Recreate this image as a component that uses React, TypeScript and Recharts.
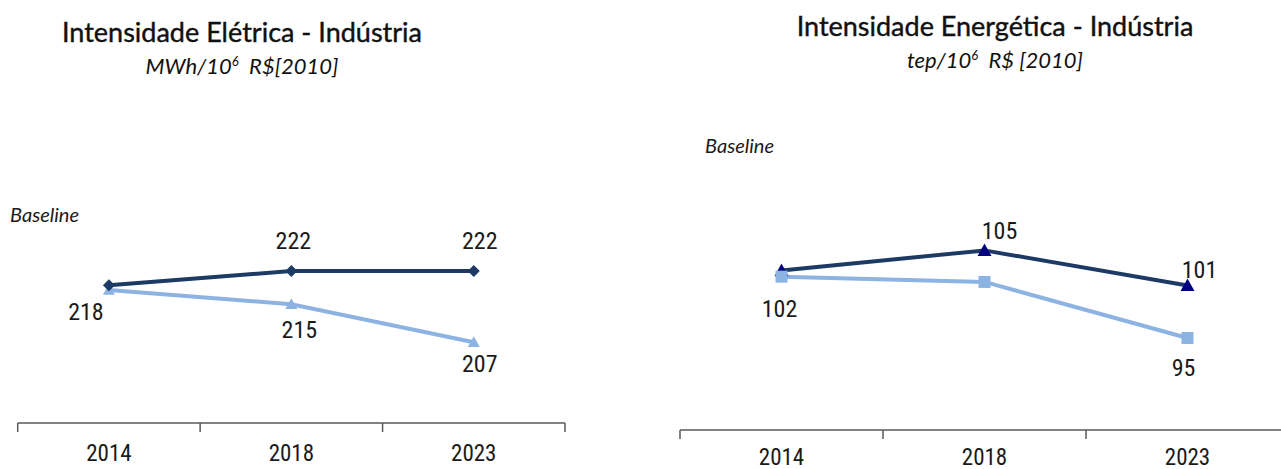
import { LineChart, Line, XAxis, YAxis, LabelList } from 'recharts'

// categories
const YEARS = ['2014', '2018', '2023']

// Intensidade Elétrica (MWh/10^6 R$[2010]) – first dark point has no label, estimated from position
const ELETRICA_REF = [219, 222, 222]
const ELETRICA_EFF = [218, 215, 207]

// Intensidade Energética (tep/10^6 R$[2010]) – unlabeled points estimated from position
const ENERGETICA_REF = [102.7, 105, 101]
const ENERGETICA_EFF = [102, 101.4, 95]

const DARK = '#1c3a64'
const LIGHT = '#8db3e2'
const NAVY = '#000080'
const AXIS = '#595959'
const TEXT = '#1a1a1a'
const NARROW = "'Liberation Sans Narrow', 'Arial Narrow', 'Roboto Condensed', 'Liberation Sans', sans-serif"
const TITLE_FONT = "Lato, 'Open Sans', sans-serif"

type Offset = [number, number] | null

const buildData = (ref: number[], eff: number[]) =>
  YEARS.map((year, i) => ({ year, ref: ref[i], eff: eff[i] }))

function makeTick(band: number, dy: number) {
  return (props: any) => {
    const { x, y, payload, index, visibleTicksCount } = props
    const last = index === (visibleTicksCount ?? YEARS.length) - 1
    return (
      <g>
        <line x1={x - band / 2} x2={x - band / 2} y1={y} y2={y + 9} stroke={AXIS} strokeWidth={1.5} />
        {last && <line x1={x + band / 2} x2={x + band / 2} y1={y} y2={y + 9} stroke={AXIS} strokeWidth={1.5} />}
        <text
          x={x}
          y={y + dy}
          textAnchor="middle"
          dominantBaseline="central"
          fontFamily={NARROW}
          fontSize={23}
          fill={TEXT}
        >
          {payload.value}
        </text>
      </g>
    )
  }
}

const diamond = (color: string, r: number) => (p: any) => {
  if (p.cx == null || p.cy == null) return <g key={p.index} />
  const { cx, cy } = p
  return <path key={p.index} d={`M${cx},${cy - r}L${cx + r},${cy}L${cx},${cy + r}L${cx - r},${cy}Z`} fill={color} />
}

const triangle = (color: string, r: number) => (p: any) => {
  if (p.cx == null || p.cy == null) return <g key={p.index} />
  const { cx, cy } = p
  return <path key={p.index} d={`M${cx},${cy - r}L${cx + r},${cy + r * 0.8}L${cx - r},${cy + r * 0.8}Z`} fill={color} />
}

const square = (color: string, r: number) => (p: any) => {
  if (p.cx == null || p.cy == null) return <g key={p.index} />
  return <rect key={p.index} x={p.cx - r} y={p.cy - r} width={r * 2} height={r * 2} fill={color} />
}

const valueLabel = (offsets: Offset[]) => (p: any) => {
  const o = offsets[p.index]
  if (!o || p.x == null || p.y == null) return null
  return (
    <text
      key={p.index}
      x={p.x + o[0]}
      y={p.y + o[1]}
      textAnchor="middle"
      dominantBaseline="central"
      fontFamily={NARROW}
      fontSize={24}
      fill={TEXT}
    >
      {Math.round(Number(p.value))}
    </text>
  )
}

function Title({ left, top, width, title, unit, tail }: { left: number; top: number; width: number; title: string; unit: string; tail: string }) {
  return (
    <div style={{ position: 'absolute', left, top, width, textAlign: 'center', fontFamily: TITLE_FONT, color: '#111' }}>
      <div style={{ fontSize: 27, lineHeight: '30px', WebkitTextStroke: '0.4px #111' }}>{title}</div>
      <div style={{ fontSize: 22, fontStyle: 'italic', lineHeight: '28px' }}>
        {unit}
        <sup style={{ fontSize: 13 }}>6</sup>
        {'\u00a0\u00a0'}
        {tail}
      </div>
    </div>
  )
}

function Baseline({ left, top }: { left: number; top: number }) {
  return (
    <div style={{ position: 'absolute', left, top, fontFamily: TITLE_FONT, fontStyle: 'italic', fontSize: 20, color: TEXT }}>
      Baseline
    </div>
  )
}

export default function App() {
  const eletrica = buildData(ELETRICA_REF, ELETRICA_EFF)
  const energetica = buildData(ENERGETICA_REF, ENERGETICA_EFF)
  const leftBand = (565 - 17.7) / 3
  const rightBand = 609 / 3

  return (
    <div style={{ position: 'absolute', left: 0, top: 0, width: 1281, height: 469, overflow: 'hidden', background: '#fff' }}>
      <Title left={42} top={17} width={400} title="Intensidade Elétrica - Indústria" unit="MWh/10" tail="R$[2010]" />
      <Title left={795} top={11} width={400} title="Intensidade Energética - Indústria" unit="tep/10" tail="R$ [2010]" />
      <Baseline left={10} top={202} />
      <Baseline left={705} top={133} />

      <div style={{ position: 'absolute', left: 0, top: 0 }}>
        <LineChart width={600} height={469} data={eletrica} margin={{ top: 185.5, right: 35, bottom: 6, left: 17.7 }}>
          <XAxis
            dataKey="year"
            scale="band"
            height={40}
            tickSize={0}
            tickMargin={0}
            tickLine={false}
            axisLine={{ stroke: AXIS, strokeWidth: 1.5 }}
            tick={makeTick(leftBand, 30)}
            interval={0}
          />
          <YAxis hide type="number" domain={[190, 240]} allowDataOverflow />
          <Line
            dataKey="eff"
            stroke={LIGHT}
            strokeWidth={4}
            dot={triangle(LIGHT, 6)}
            activeDot={false}
            isAnimationActive={false}
          >
            <LabelList dataKey="eff" content={valueLabel([[-23, 22], [8, 26], [6, 22]])} />
          </Line>
          <Line
            dataKey="ref"
            stroke={DARK}
            strokeWidth={4}
            dot={diamond(DARK, 6)}
            activeDot={false}
            isAnimationActive={false}
          >
            <LabelList dataKey="ref" content={valueLabel([null, [2, -30], [6, -30]])} />
          </Line>
        </LineChart>
      </div>

      <div style={{ position: 'absolute', left: 640, top: 0 }}>
        <LineChart width={660} height={469} data={energetica} margin={{ top: 206.6, right: 11, bottom: 6, left: 40 }}>
          <XAxis
            dataKey="year"
            scale="band"
            height={33}
            tickSize={0}
            tickMargin={0}
            tickLine={false}
            axisLine={{ stroke: AXIS, strokeWidth: 1.5 }}
            tick={makeTick(rightBand, 27)}
            interval={0}
          />
          <YAxis hide type="number" domain={[84.5, 110]} allowDataOverflow />
          <Line
            dataKey="ref"
            stroke={DARK}
            strokeWidth={4}
            dot={triangle(NAVY, 7)}
            activeDot={false}
            isAnimationActive={false}
          >
            <LabelList dataKey="ref" content={valueLabel([null, [15, -19], [12, -15]])} />
          </Line>
          <Line
            dataKey="eff"
            stroke={LIGHT}
            strokeWidth={4}
            dot={square(LIGHT, 6)}
            activeDot={false}
            isAnimationActive={false}
          >
            <LabelList dataKey="eff" content={valueLabel([[-2, 32], null, [-4, 30]])} />
          </Line>
        </LineChart>
      </div>
    </div>
  )
}
